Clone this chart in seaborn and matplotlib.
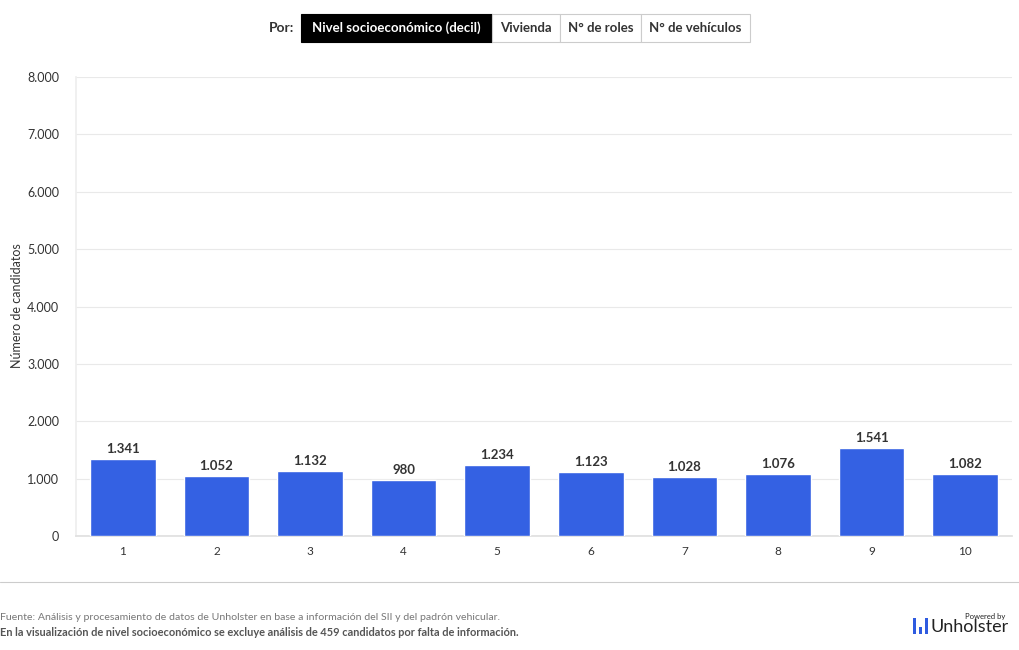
import matplotlib
matplotlib.use("Agg")
import matplotlib.pyplot as plt
from matplotlib.patches import Rectangle
import seaborn as sns
import pandas as pd

deciles = ["1", "2", "3", "4", "5", "6", "7", "8", "9", "10"]
candidatos = [1341, 1052, 1132, 980, 1234, 1123, 1028, 1076, 1541, 1082]
y_ticks = [0, 1000, 2000, 3000, 4000, 5000, 6000, 7000, 8000]
botones = ["Nivel socioeconómico (decil)", "Vivienda", "N° de roles", "N° de vehículos"]

sns.set_theme(style="white")
plt.rcParams["font.family"] = ["Lato", "DejaVu Sans"]

W, H = 1020, 650
fig = plt.figure(figsize=(W / 100, H / 100), dpi=100)
ax = fig.add_axes([76 / W, 1 - 536 / H, 936 / W, (536 - 77) / H])

df = pd.DataFrame({"decil": deciles, "n": candidatos})
sns.barplot(data=df, x="decil", y="n", color="#3461e3", saturation=1,
            width=0.70, ax=ax, zorder=3)

def fmt(v):
    return f"{v:,}".replace(",", ".")

for i, v in enumerate(candidatos):
    ax.text(i, v + 70, fmt(v), ha="center", va="bottom", fontsize=9.5,
            fontweight="bold", color="#333333")

ax.set_xlim(-0.5, 9.5)
ax.set_ylim(0, 8000)
ax.set_yticks(y_ticks)
ax.set_yticklabels([fmt(t) for t in y_ticks], fontsize=9, color="#333333")
ax.tick_params(axis="x", labelsize=8.5, colors="#333333", length=4, color="#cccccc")
ax.tick_params(axis="y", length=0, pad=12)
ax.yaxis.grid(True, color="#e9e9e9", lw=0.8, zorder=0)
ax.set_xlabel("")
ax.set_ylabel("")
for s in ["top", "right"]:
    ax.spines[s].set_visible(False)
ax.spines["left"].set_color("#eeeeee")
ax.spines["bottom"].set_color("#e0e0e0")
fig.text(17 / W, 1 - 306 / H, "Número de candidatos", rotation=90, ha="center",
         va="center", fontsize=9, color="#333333")

# selector de botones arriba
fig.text(294 / W, 1 - 28 / H, "Por:", ha="right", va="center", fontsize=10,
         fontweight="bold", color="#333333")
bordes = [301, 492, 560, 641, 750]
for k, b in enumerate(botones):
    x0, x1 = bordes[k], bordes[k + 1]
    activo = k == 0
    fig.patches.append(Rectangle((x0 / W, 1 - 42 / H), (x1 - x0) / W, 28 / H,
                                 transform=fig.transFigure,
                                 facecolor="black" if activo else "white",
                                 edgecolor="black" if activo else "#cccccc",
                                 lw=0.8))
    fig.text((x0 + x1) / 2 / W, 1 - 28 / H, b, ha="center", va="center",
             fontsize=9.5, fontweight="bold",
             color="white" if activo else "#333333")

# separador y pie
fig.add_artist(plt.Line2D([0, 1], [1 - 582 / H, 1 - 582 / H], color="#cccccc", lw=0.8))
fig.text(0, 1 - 618 / H, "Fuente: Análisis y procesamiento de datos de Unholster en base a información del SII y del padrón vehicular.",
         ha="left", va="center", fontsize=7.55, color="#777777")
fig.text(0, 1 - 632 / H, "En la visualización de nivel socioeconómico se excluye análisis de 459 candidatos por falta de información.",
         ha="left", va="center", fontsize=7.95, fontweight="bold", color="#555555")

# logo
for xb, hb in [(913, 16), (919, 7), (925, 16)]:
    fig.patches.append(Rectangle((xb / W, 1 - 634 / H), 3.5 / W, hb / H,
                                 transform=fig.transFigure, facecolor="#2f5be0", lw=0))
fig.text(931 / W, 1 - 627 / H, "Unholster", ha="left", va="center", fontsize=13,
         color="#222222")
fig.text(1005 / W, 1 - 617 / H, "Powered by", ha="right", va="center", fontsize=5.5,
         color="#222222")

fig.savefig("out.png", dpi=100)
